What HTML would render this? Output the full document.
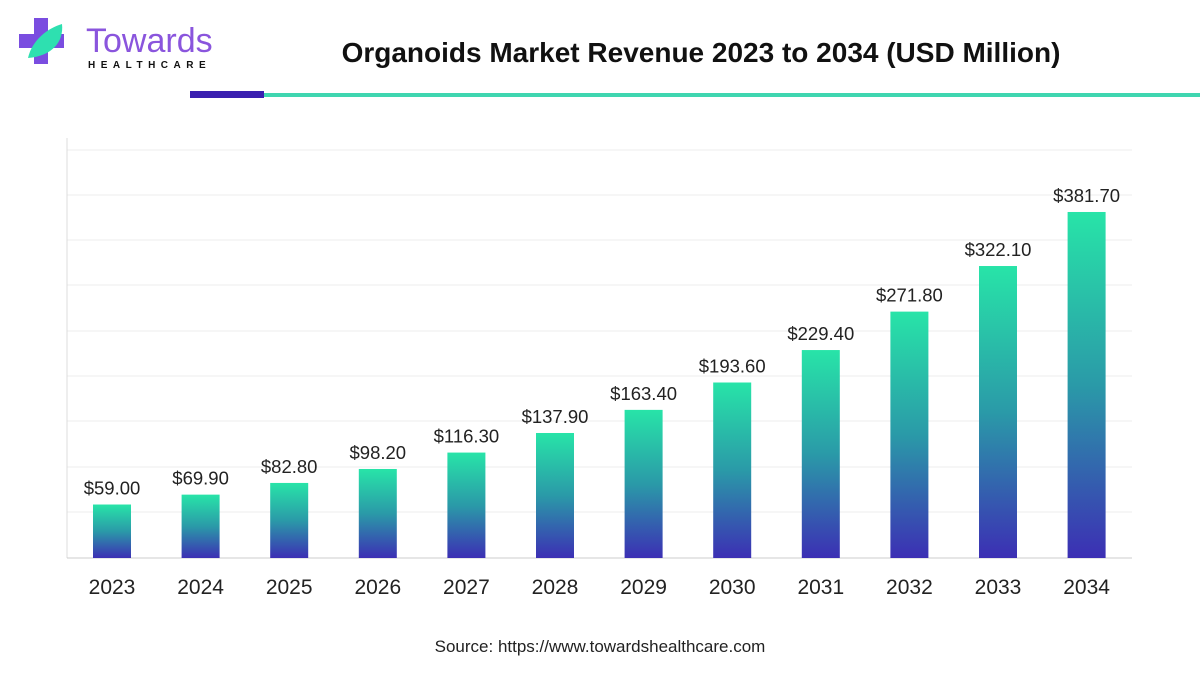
<!DOCTYPE html>
<html><head><style>
body{margin:0;width:1200px;height:675px;background:#fff;font-family:"Liberation Sans",sans-serif;overflow:hidden}
</style></head><body>
<svg width="1200" height="675" xmlns="http://www.w3.org/2000/svg">
<defs><linearGradient id="g" x1="0" y1="0" x2="0" y2="1"><stop offset="0" stop-color="#28e4a8"/><stop offset="0.5" stop-color="#2a9aa8"/><stop offset="1" stop-color="#3c2fb4"/></linearGradient></defs>
<path d="M34 18h14v16h16v14H48v16H34V48H19V34h15z" fill="#7a4de0"/>
<path d="M28 58 C32 40 48 28 62 24 C64 42 52 56 28 58z" fill="#2ee0b0"/>
<text x="86" y="52" font-size="34" fill="#8a55dd">Towards</text>
<text x="88" y="68" font-size="10" font-weight="bold" letter-spacing="5.5" fill="#111">HEALTHCARE</text>
<text x="701" y="62" text-anchor="middle" font-size="28" font-weight="bold" fill="#111">Organoids Market Revenue 2023 to 2034 (USD Million)</text>
<rect x="190" y="91" width="74" height="7" fill="#3a1fb0"/>
<rect x="264" y="93" width="936" height="4" fill="#3fd6b0"/>
<g stroke="#ececec" stroke-width="1">
<line x1="67" y1="150" x2="1132" y2="150"/><line x1="67" y1="195" x2="1132" y2="195"/>
<line x1="67" y1="240" x2="1132" y2="240"/><line x1="67" y1="285" x2="1132" y2="285"/>
<line x1="67" y1="331" x2="1132" y2="331"/><line x1="67" y1="376" x2="1132" y2="376"/>
<line x1="67" y1="421" x2="1132" y2="421"/><line x1="67" y1="467" x2="1132" y2="467"/>
<line x1="67" y1="512" x2="1132" y2="512"/>
</g>
<line x1="67" y1="138" x2="67" y2="558" stroke="#ddd"/>
<line x1="67" y1="558" x2="1132" y2="558" stroke="#ccc"/>
<g font-size="18.5" fill="#222" text-anchor="middle" id="bars"></g>
<text x="600" y="652" text-anchor="middle" font-size="17" fill="#222">Source: https://www.towardshealthcare.com</text>
</svg>
<script>
var v=[59,69.9,82.8,98.2,116.3,137.9,163.4,193.6,229.4,271.8,322.1,381.7],y=2023,g=document.getElementById('bars'),s='';
v.forEach(function(d,i){var x=93+i*88.6,h=d*0.9065,t=558-h;
s+='<rect x="'+x+'" y="'+t+'" width="38" height="'+h+'" fill="url(#g)"/>';
s+='<text x="'+(x+19)+'" y="'+(t-10)+'">$'+d.toFixed(2)+'</text>';
s+='<text x="'+(x+19)+'" y="594" font-size="21">'+(y+i)+'</text>';});
g.innerHTML=s;
</script>
</body></html>
